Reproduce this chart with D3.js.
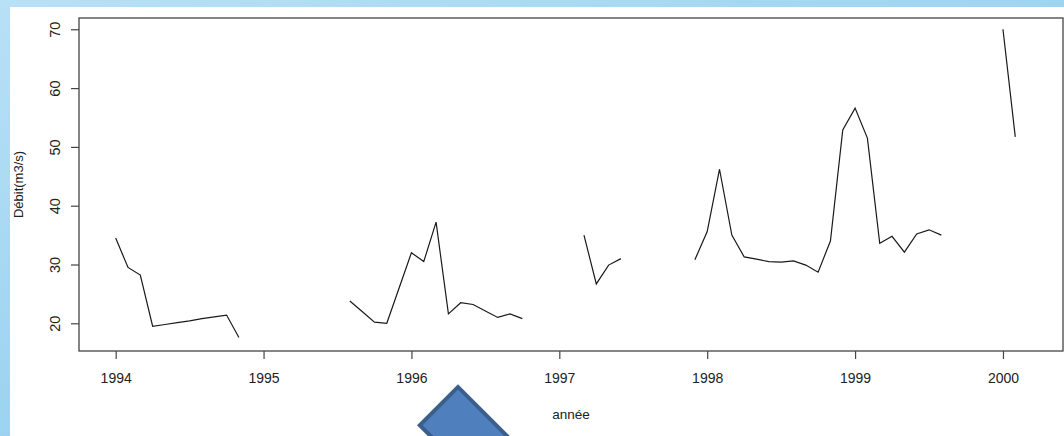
<!DOCTYPE html>
<html>
<head>
<meta charset="utf-8">
<script src="https://cdn.jsdelivr.net/npm/d3@7"></script>
<style>
html,body{margin:0;padding:0;background:#fff;}
svg{display:block;font-family:"Liberation Sans",Arial,sans-serif;}
</style>
</head>
<body>
<svg id="c" width="1064" height="436"></svg>
<script>
// Monthly flow (m3/s) starting January 1994; null = missing month
const startYear = 1994;
const debit = [
  34.5, 29.5, 28.2, 19.5, 19.8, 20.1, 20.4, 20.8, 21.1, 21.4, 17.6, null,   // 1994
  null, null, null, null, null, null, null, 23.8, 22.0, 20.2, 20.0, 26.0,   // 1995
  32.0, 30.5, 37.2, 21.6, 23.5, 23.2, 22.1, 21.0, 21.6, 20.8, null, null,   // 1996
  null, null, 35.0, 26.7, 29.9, 31.0, null, null, null, null, null, 30.8,   // 1997
  35.6, 46.2, 35.0, 31.3, 30.9, 30.5, 30.4, 30.6, 29.9, 28.7, 34.0, 52.9,   // 1998
  56.6, 51.5, 33.6, 34.8, 32.1, 35.2, 35.9, 35.0, null, null, null, null,   // 1999
  70.0, 51.7                                                                // 2000
];
const xTicks = [1994, 1995, 1996, 1997, 1998, 1999, 2000];
const yTicks = [20, 30, 40, 50, 60, 70];
const xLabel = "année";
const yLabel = "Débit(m3/s)";

const svg = d3.select("#c");
const W = 1064, H = 436;

// background frame
const defs = svg.append("defs");
const gLeft = defs.append("linearGradient").attr("id","gl").attr("x1",0).attr("y1",0).attr("x2",0).attr("y2",1);
gLeft.append("stop").attr("offset","0%").attr("stop-color","#b8e0f6");
gLeft.append("stop").attr("offset","100%").attr("stop-color","#9bd3f0");
const gTop = defs.append("linearGradient").attr("id","gt").attr("x1",0).attr("y1",0).attr("x2",1).attr("y2",0);
gTop.append("stop").attr("offset","0%").attr("stop-color","#b8e0f6");
gTop.append("stop").attr("offset","100%").attr("stop-color","#9fd4f1");
svg.append("rect").attr("x",0).attr("y",0).attr("width",W).attr("height",7).attr("fill","url(#gt)");
svg.append("rect").attr("x",0).attr("y",0).attr("width",10).attr("height",H).attr("fill","url(#gl)");

const m = {left:79, right:1063, top:18, bottom:351};
const x = d3.scaleLinear().domain([1993.752, 2000.406]).range([m.left, m.right]);
const y = d3.scaleLinear().domain([15.29, 71.92]).range([m.bottom, m.top]);

const data = debit.map((v,i)=>({t:startYear + i/12, v:v}));

// box
svg.append("rect").attr("x",m.left).attr("y",m.top)
  .attr("width",m.right-m.left).attr("height",m.bottom-m.top)
  .attr("fill","none").attr("stroke","#444").attr("stroke-width",1.3);

// x axis
const xa = svg.append("g").attr("transform",`translate(0,${m.bottom})`)
  .call(d3.axisBottom(x).tickValues(xTicks).tickFormat(d3.format("d")).tickSize(8).tickPadding(14));
xa.select(".domain").remove();
xa.selectAll("line").attr("stroke","#444").attr("stroke-width",1.2);
xa.selectAll("text").attr("font-size","14px").attr("fill","#222")
  .attr("font-family","'Liberation Sans',Arial,sans-serif");

// y axis
const ya = svg.append("g").attr("transform",`translate(${m.left},0)`)
  .call(d3.axisLeft(y).tickValues(yTicks).tickSize(8).tickPadding(0));
ya.select(".domain").remove();
ya.selectAll("line").attr("stroke","#444").attr("stroke-width",1.2);
ya.selectAll("text").attr("font-size","14.5px").attr("fill","#222")
  .attr("font-family","'Liberation Sans',Arial,sans-serif")
  .attr("text-anchor","middle").attr("dy",0).attr("x",0)
  .attr("transform","translate(-24,0) rotate(-90)")
  .attr("y",0).attr("dominant-baseline","central");

// line
const line = d3.line().defined(d=>d.v!==null).x(d=>x(d.t)).y(d=>y(d.v));
svg.append("path").datum(data).attr("d",line)
  .attr("fill","none").attr("stroke","#1a1a1a").attr("stroke-width",1.2)
  .attr("stroke-linejoin","miter");

// axis titles
svg.append("text").attr("x",(m.left+m.right)/2).attr("y",419)
  .attr("text-anchor","middle").attr("font-size","13.5px").attr("fill","#222").text(xLabel);
svg.append("text").attr("transform",`translate(23,${(m.top+m.bottom)/2}) rotate(-90)`)
  .attr("text-anchor","middle").attr("font-size","13px").attr("fill","#222").text(yLabel);

// blue diamond shape (decoration)
svg.append("rect").attr("x",0).attr("y",0).attr("width",110).attr("height",54)
  .attr("transform","translate(458,387) rotate(45)")
  .attr("fill","#4f7fbd").attr("stroke","#3a5f8d").attr("stroke-width",4);
</script>
</body>
</html>
